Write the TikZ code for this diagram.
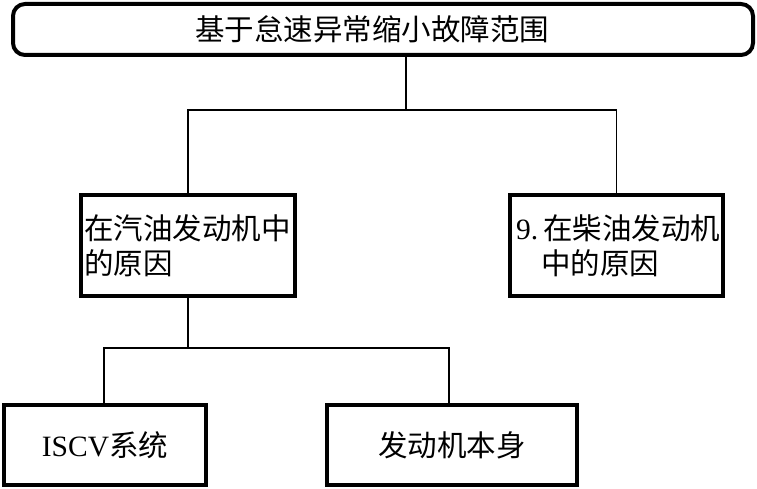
\documentclass[tikz,border=0pt]{standalone}
\usepackage{fontspec}
\setmainfont{Liberation Serif}
\newfontfamily\cjk{Noto Sans CJK SC}
\begin{document}
\begin{tikzpicture}[x=1pt,y=-1pt,
  box/.style={draw,line width=4pt,rectangle,outer sep=0pt,inner sep=0pt,
    font=\cjk\fontsize{29.5pt}{35pt}\selectfont},
  conn/.style={line width=1.2pt}]
\useasboundingbox (0,0) rectangle (757,489);
\node[box,rounded corners=12pt,minimum width=740pt,minimum height=51pt] (top) at (383,29.5)
  {基于怠速异常缩小故障范围\hspace*{22pt}};
\node[box,minimum width=214pt,minimum height=101pt,text width=208pt,align=left] (gas) at (188,245.5)
  {在汽油发动机中\\的原因};
\node[box,minimum width=213pt,minimum height=101pt,text width=209pt,align=left] (diesel) at (616.5,245.5)
  {\hspace*{4pt}{\rmfamily 9.}\kern5pt 在柴油发动机\\\hspace*{29pt}中的原因};
\node[box,minimum width=202pt,minimum height=80pt] (iscv) at (105,445) {{\rmfamily ISCV}系统};
\node[box,minimum width=250pt,minimum height=80pt] (body) at (452,445) {发动机本身};
\coordinate (j1) at (406,110);
\coordinate (ja) at (104,348);
\coordinate (j2) at (188,348);
\coordinate (jb) at (449,348);
\draw[conn] (top.south -| j1) -- (j1);
\draw[conn] (gas.north) -- (gas.north |- j1) -- (diesel.north |- j1) -- (diesel.north);
\draw[conn] (gas.south) -- (j2);
\draw[conn] (ja |- iscv.north) -- (ja) -- (jb) -- (jb |- body.north);
\end{tikzpicture}
\end{document}
